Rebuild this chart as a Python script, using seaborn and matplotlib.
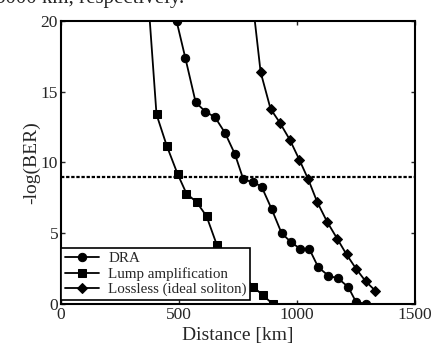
import numpy as np
import pandas as pd
import matplotlib
matplotlib.use("Agg")
import matplotlib.pyplot as plt
import seaborn as sns

# (km, -log(BER))
dra_km = [490, 527, 571, 612, 653, 695, 737, 773, 815, 850, 893, 935, 973,
          1013, 1052, 1090, 1133, 1175, 1217, 1250, 1292]
dra_ber = [20.0, 17.4, 14.25, 13.6, 13.2, 12.1, 10.6, 8.8, 8.6, 8.3, 6.7, 5.0,
           4.4, 3.9, 3.9, 2.6, 2.0, 1.8, 1.2, 0.15, 0.0]

lump_km = [368, 405, 448, 494, 532, 575, 617, 660, 815, 857, 897]
lump_ber = [22.0, 13.4, 11.2, 9.2, 7.8, 7.2, 6.2, 4.2, 1.2, 0.6, 0.0]

lossless_km = [808, 846, 888, 928, 970, 1010, 1048, 1086, 1128, 1171, 1210,
               1250, 1291, 1331]
lossless_ber = [22.0, 16.4, 13.8, 12.8, 11.6, 10.2, 8.8, 7.2, 5.8, 4.6, 3.5,
                2.5, 1.6, 0.95]

ber_limit = 9

sns.set_style("ticks")
plt.rcParams['font.family'] = ['Liberation Serif', 'DejaVu Serif']

fig = plt.figure(figsize=(4.35, 3.45), dpi=100)
ax = fig.add_axes([0.140, 0.119, 0.814, 0.820])

ax.axhline(ber_limit, color='k', lw=1.6, ls=(0, (1.5, 0.8)), zorder=1)

series = [("DRA", dra_km, dra_ber, 'o', 6),
          ("Lump amplification", lump_km, lump_ber, 's', 5.5),
          ("Lossless (ideal soliton)", lossless_km, lossless_ber, 'D', 5.5)]
for name, xs, ys, mk, ms in series:
    df = pd.DataFrame({'km': xs, 'ber': ys})
    sns.lineplot(data=df, x='km', y='ber', ax=ax, sort=False, color='k',
                 lw=1.3, marker=mk, markersize=ms, markeredgecolor='k',
                 label=name, zorder=3)

ax.set_xlim(0, 1500)
ax.set_ylim(0, 20)
ax.set_xticks([0, 500, 1000, 1500])
ax.set_yticks([0, 5, 10, 15, 20])
ax.tick_params(direction='in', top=True, right=True, labelsize=12.5, length=3,
               width=1, pad=2)
for s in ax.spines.values():
    s.set_linewidth(1.5)
    s.set_color('k')

ax.set_xlabel("Distance [km]", fontsize=14, labelpad=3)
ax.set_ylabel("-log(BER)", fontsize=14, labelpad=0)

leg = ax.legend(loc='lower left', bbox_to_anchor=(0.0, 0.015), fontsize=10.8,
                frameon=True, fancybox=False, borderpad=0.25, labelspacing=0.1,
                handlelength=2.3, handletextpad=0.6, borderaxespad=0.0)
leg.get_frame().set_edgecolor('k')
leg.get_frame().set_linewidth(1.2)
leg.get_frame().set_alpha(1)
leg.set_zorder(5)

fig.text(-0.012, 1.004, "5000 km, respectively.", fontsize=15, va='center',
         ha='left')

fig.savefig("out.png", dpi=100)
